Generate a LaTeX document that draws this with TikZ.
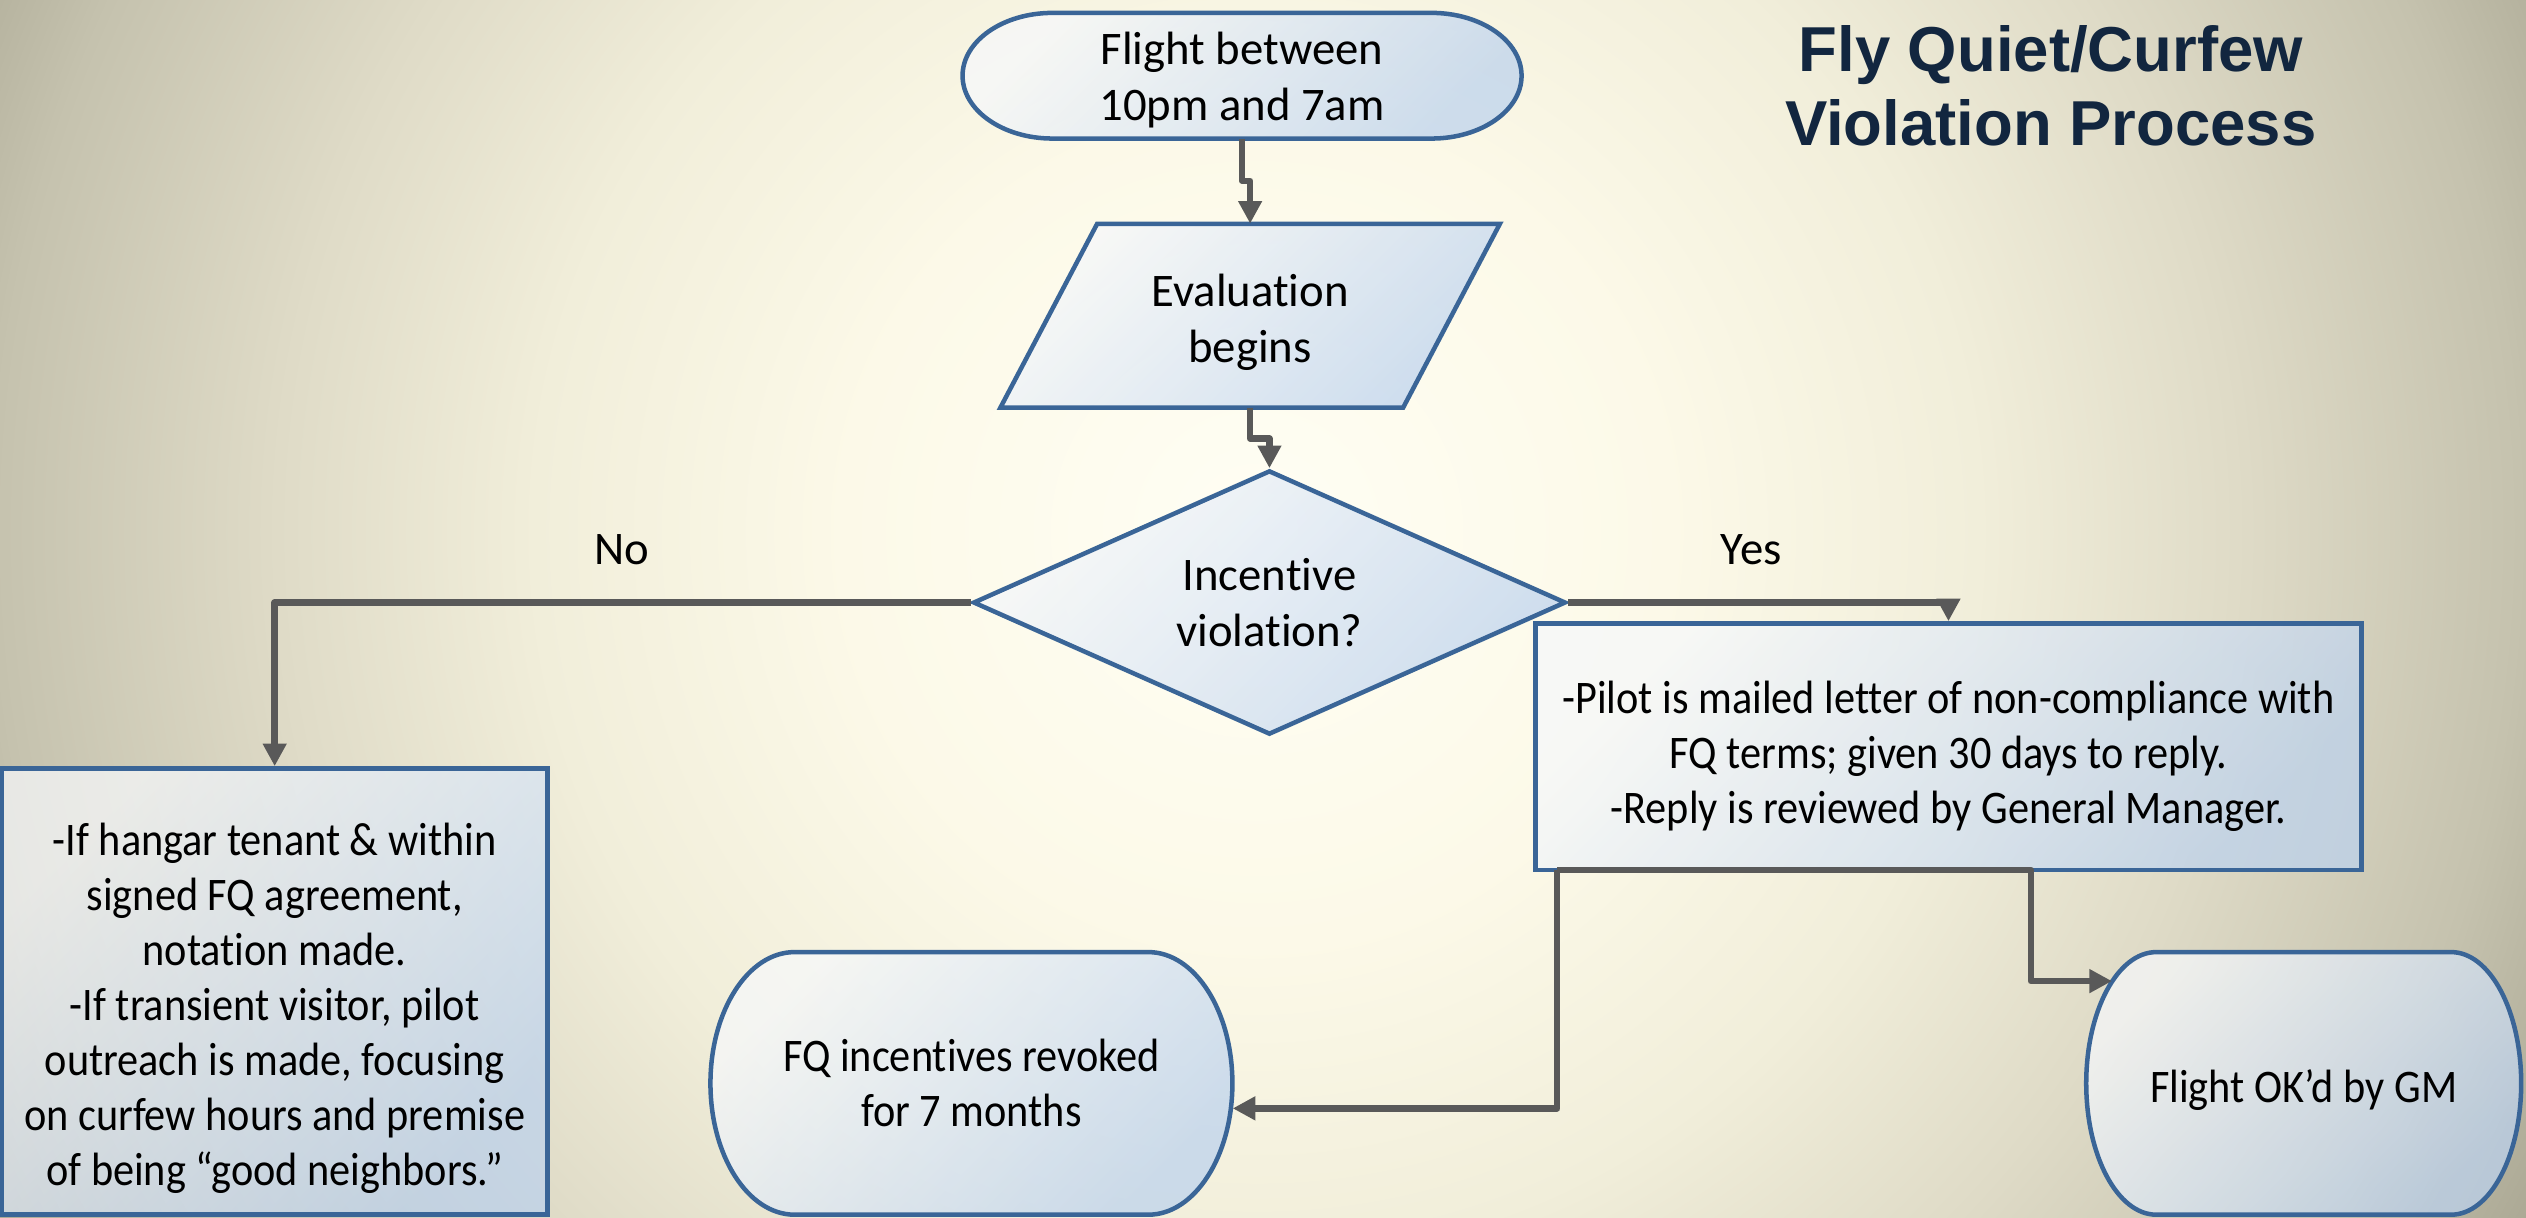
\documentclass[tikz,border=0pt]{standalone}
\usepackage{fontspec}
\setmainfont{Carlito}[Ligatures=NoCommon]
\newfontfamily\condfont{Carlito}[FakeStretch=0.905,Ligatures=NoCommon]
\newfontfamily\titlefont{Liberation Sans}
\usetikzlibrary{arrows.meta,shapes.geometric,calc}
\definecolor{bg0}{HTML}{FFFEF4}
\definecolor{bg1}{HTML}{FCF9E8}
\definecolor{bg2}{HTML}{F1EEDA}
\definecolor{bg3}{HTML}{DFDBC7}
\definecolor{bg4}{HTML}{C5C2AE}
\definecolor{bg5}{HTML}{ACA995}
\definecolor{nodeborder}{HTML}{3A6597}
\definecolor{nodetop}{HTML}{F6F8FB}
\definecolor{nodebot}{HTML}{BCD2EE}
\definecolor{conncol}{HTML}{595959}
\definecolor{titlecol}{HTML}{12263F}
\pgfdeclareradialshading{bgshade}{\pgfpoint{0bp}{0bp}}{color(0bp)=(bg0); color(8bp)=(bg1); color(14bp)=(bg2); color(19bp)=(bg3); color(24.5bp)=(bg4); color(28bp)=(bg5); color(50bp)=(bg5)}
% #1 name, #2 cx, #3 cy, #4 width, #5 height, #6 text style, #7 text y offset, #8 text
\newcommand\termnode[8]{%
  \pgfmathsetmacro\trx{0.161*#4}%
  \pgfmathsetmacro\thh{#5/2}%
  \path[nodefill] ({#2-#4/2+\trx},{#3-\thh}) -- ({#2+#4/2-\trx},{#3-\thh})
    arc[start angle=90,end angle=-90,x radius=\trx pt,y radius=\thh pt]
    -- ({#2-#4/2+\trx},{#3+\thh})
    arc[start angle=270,end angle=90,x radius=\trx pt,y radius=\thh pt] -- cycle;
  \node[minimum width=#4pt,minimum height=#5pt,inner sep=0pt] (#1) at (#2,#3) {};
  \node[#6] (#1text) at (#2,{#3+#7}) {#8};
}
\begin{document}
\begin{tikzpicture}[x=1pt,y=-1pt,
  nodefill/.style={draw=nodeborder, line width=2.8pt, top color=nodetop, bottom color=nodebot, shading angle=45, fill opacity=0.72, text opacity=1},
  txt/.style={font=\fontsize{29}{35}\selectfont, align=center, text=black, inner sep=0pt},
  ctxt/.style={txt, font=\condfont\fontsize{29}{34.2}\selectfont},
  conn/.style={draw=conncol, line width=4pt, line join=round, -{Triangle[length=14pt,width=14pt]}}]
\useasboundingbox (0,0) rectangle (1568,756);
\begin{scope}
  \clip (0,0) rectangle (1568,756);
  \shade[shading=bgshade] (-20,-470) rectangle (1580,1130);
\end{scope}

% title
\node[font=\titlefont\bfseries\fontsize{39.4}{46}\selectfont, text=titlecol, align=center, inner sep=0pt] (title) at (1273,53) {Fly Quiet/Curfew\\Violation Process};

% start terminator
\termnode{flight}{771}{47}{347}{78}{txt}{2.5}{Flight between\\10pm and 7am}

% parallelogram
\path[nodefill] ({776+30-125},139) -- ({776+30+125},139) -- ({776-30+125},253) -- ({776-30-125},253) -- cycle;
\node[minimum width=250pt, minimum height=114pt, inner sep=0pt] (eval) at (776,196) {};
\node[txt] (evaltext) at (776,200) {Evaluation\\begins};

% decision
\node[nodefill, txt, diamond, aspect=2.24, minimum width=368pt, minimum height=164pt] (dia) at (788,374) {Incentive\\violation?};

% boxes
\node[nodefill, rectangle, minimum width=339pt, minimum height=277pt, inner sep=0pt] (left) at (170.5,615.5) {};
\node[ctxt] (lefttext) at (170.5,626) {-If hangar tenant \& within\\signed FQ agreement,\\notation made.\\-If transient visitor, pilot\\outreach is made, focusing\\on curfew hours and premise\\of being “good neighbors.”};
\node[nodefill, rectangle, minimum width=513pt, minimum height=153pt, inner sep=0pt] (yes) at (1209.5,463.5) {};
\node[ctxt] (yestext) at (1209.5,469.5) {-Pilot is mailed letter of non-compliance with\\FQ terms; given 30 days to reply.\\-Reply is reviewed by General Manager.};

\termnode{fq}{603}{672.5}{324}{163}{ctxt}{0}{FQ incentives revoked\\for 7 months}
\termnode{ok}{1430}{672.5}{270}{163}{ctxt}{4}{Flight OK’d by GM}

% labels
\node[txt] (nolab) at (386,341) {No};
\node[txt] (yeslab) at (1087,341) {Yes};

% connectors
\draw[conn] (flight.south) -- ++(0,26) -| (eval.north);
\draw[conn] (eval.south) -- ++(0,19) -| (dia.north);
\draw[conn] (dia.west) -| (left.north);
\draw[conn] (dia.east) -| (yes.north);
\coordinate (split) at ($(yes.south west)+(15,-1.5)$);
\coordinate (okin) at (1311,609);
\draw[conn] (split) |- ($(fq.east)+(0,15.5)$);
\draw[conn] (split) -- ($(yes.south west)+(309,-1.5)$) |- (okin);
\end{tikzpicture}
\end{document}
